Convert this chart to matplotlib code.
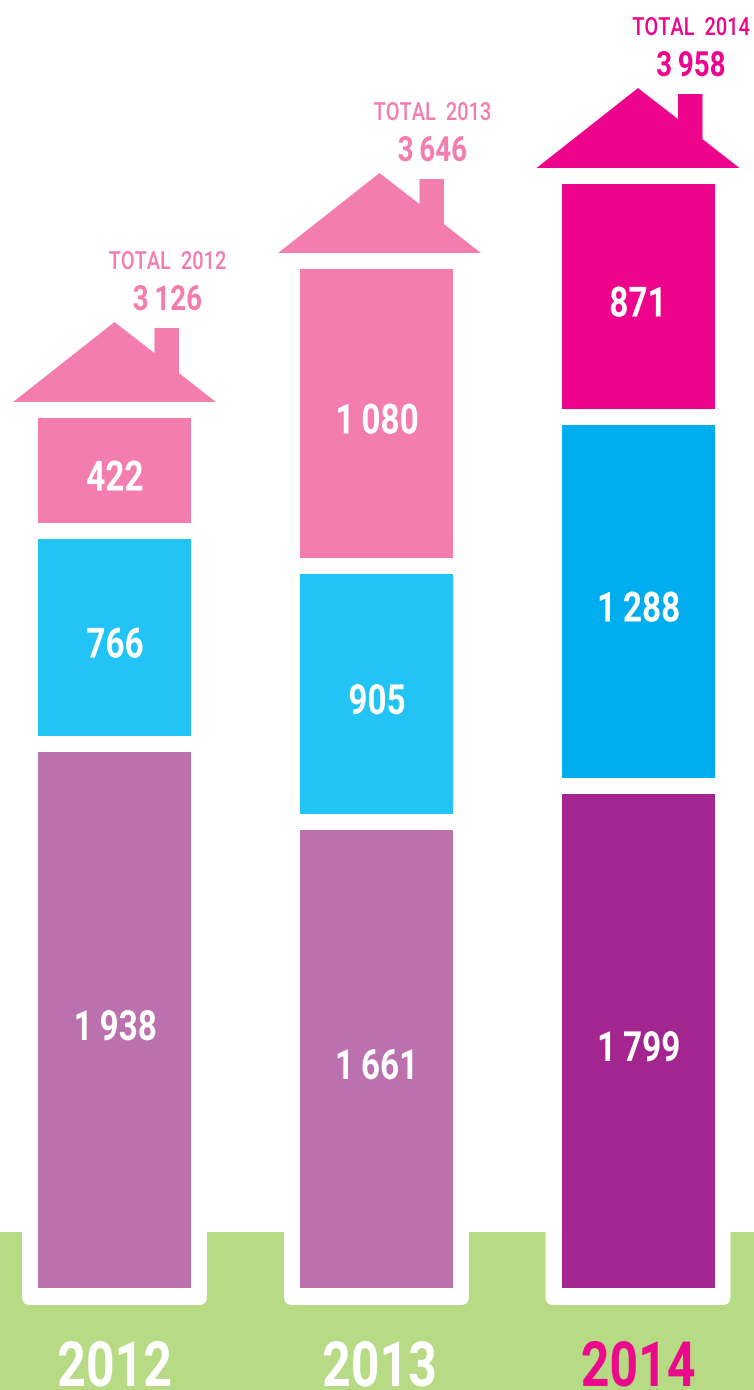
from matplotlib import pyplot as plt
from matplotlib.patches import Polygon, FancyBboxPatch, Rectangle
from matplotlib.patheffects import AbstractPathEffect
from matplotlib.transforms import Affine2D

plt.rcParams['font.family'] = ['Roboto', 'DejaVu Sans']

years = ['2012', '2013', '2014']
x_centers = [114.5, 376.5, 638]
roof_shift = [0, 3, 0]

# labels as printed
bottom_labels = ['1\u2009938', '1\u2009661', '1\u2009799']
middle_labels = ['766', '905', '1\u2009288']
top_labels = ['422', '1\u2009080', '871']
total_labels = ['3\u2009126', '3\u2009646', '3\u2009958']

# segment heights as drawn in the picture (not proportional to the labels)
bottom_heights = [536, 458, 494]
middle_heights = [197, 240, 353]
top_heights = [105, 289, 225]

bottom_colors = ['#BA71AE', '#BA71AE', '#A3258F']
middle_colors = ['#21C4F5', '#21C4F5', '#00AEEF']
top_colors = ['#F47DB0', '#F47DB0', '#EE038C']
year_colors = ['white', 'white', '#EC0A8C']

GREEN = '#B7DB84'
BAR_W = 153
GAP = 16


# the original font is a condensed DIN, so squeeze each string around its centre
class Squeeze(AbstractPathEffect):
    def __init__(self, sx):
        super().__init__()
        self.sx = sx

    def draw_path(self, renderer, gc, tpath, affine, rgbFace=None):
        ext = tpath.get_extents()
        cx = (ext.x0 + ext.x1) / 2
        squeeze = Affine2D().translate(-cx, 0).scale(self.sx, 1).translate(cx, 0)
        renderer.draw_path(gc, tpath, squeeze + affine, rgbFace)


narrow = [Squeeze(0.8)]

fig = plt.figure(figsize=(7.54, 13.90), dpi=100)
ax = fig.add_axes([0, 0, 1, 1])
ax.set_xlim(0, 754)
ax.set_ylim(-102, 1288)
ax.axis('off')

# green ground with white notches
ax.add_patch(Rectangle((0, -102), 754, 158, fc=GREEN, ec='none', zorder=1))
for xc in x_centers:
    ax.add_patch(FancyBboxPatch((xc - 92.5, -17), 185, 110, boxstyle='round,pad=0,rounding_size=8',
                                fc='white', ec='none', zorder=2))

for i, xc in enumerate(x_centers):
    base = 0
    segments = [(bottom_heights[i], bottom_colors[i], bottom_labels[i]),
                (middle_heights[i], middle_colors[i], middle_labels[i]),
                (top_heights[i], top_colors[i], top_labels[i])]
    for h, c, label in segments:
        ax.bar(xc, h, width=BAR_W, bottom=base, color=c, linewidth=0, zorder=3)
        ax.text(xc + 0.5, base + h / 2 - 20, label, color='white', fontsize=30, fontweight='bold',
                ha='center', va='baseline', path_effects=narrow, zorder=4)
        base += h + GAP

    # roof sits one gap above the top segment
    rx = xc + roof_shift[i]
    roof = Polygon([(rx - 101.5, base), (rx + 101.5, base), (rx + 64.5, base + 29), (rx + 64.5, base + 74),
                    (rx + 40, base + 74), (rx + 40, base + 49), (rx, base + 80)],
                   closed=True, fc=top_colors[i], ec='none', zorder=3)
    ax.add_patch(roof)
    ax.text(rx + 53, base + 92, total_labels[i], color=top_colors[i], fontsize=25, fontweight='bold',
            ha='center', va='baseline', path_effects=narrow, zorder=4)
    ax.text(rx + 53, base + 133, 'TOTAL  ' + years[i], color=top_colors[i], fontsize=18, fontweight='medium',
            ha='center', va='baseline', path_effects=narrow, zorder=4)

    ax.text(rx, -98, years[i], color=year_colors[i], fontsize=45, fontweight='bold',
            ha='center', va='baseline', path_effects=narrow, zorder=4)

fig.savefig('out.png', dpi=100)
